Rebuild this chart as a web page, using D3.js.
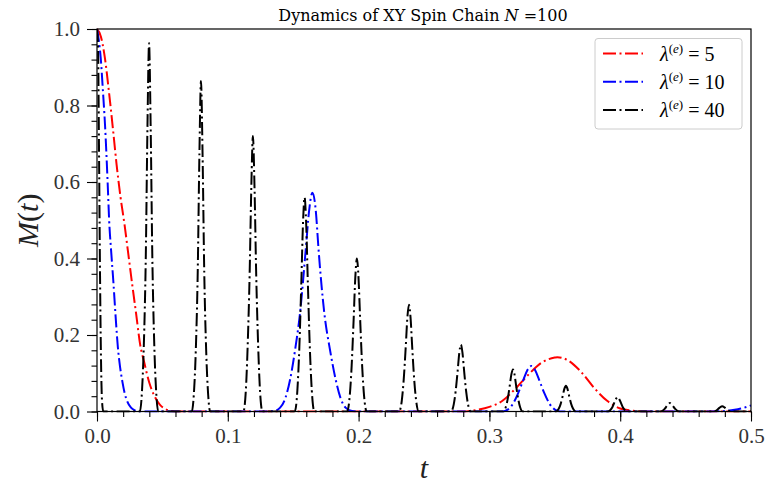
<!DOCTYPE html>
<html><head><meta charset="utf-8">
<script src="https://cdn.jsdelivr.net/npm/d3@7"></script>
<style>body{margin:0;background:#fff} svg{display:block}</style>
</head><body><svg id="c" width="767" height="484"></svg>
<script>
// ---------- data ----------
const xTicks = [0, 0.1, 0.2, 0.3, 0.4, 0.5];
const yTicks = [0, 0.2, 0.4, 0.6, 0.8, 1.0];
const seriesLabels = ["5", "10", "40"];

// lambda = 5
const red5 = [
  [0,1],[0.003,0.98],[0.006,0.925],[0.009,0.84],[0.012,0.745],[0.015,0.645],[0.018,0.56],
  [0.021,0.49],[0.024,0.41],[0.027,0.33],[0.030,0.253],[0.033,0.175],[0.036,0.13],[0.040,0.075],
  [0.044,0.04],[0.048,0.018],[0.052,0.007],[0.056,0.002],[0.062,0],[0.28,0],
  [0.29,0.004],[0.30,0.012],[0.31,0.028],[0.32,0.06],[0.33,0.097],[0.34,0.128],[0.35,0.141],
  [0.352,0.142],[0.36,0.134],[0.37,0.104],[0.38,0.062],[0.39,0.028],[0.40,0.008],[0.41,0.002],
  [0.42,0],[0.5,0]
];

// lambda = 10
const blue10 = [
  [0,1],[0.0014,0.97],[0.0028,0.926],[0.0045,0.84],[0.0061,0.751],[0.0084,0.576],[0.0092,0.506],
  [0.0108,0.42],[0.0125,0.34],[0.0142,0.25],[0.016,0.166],[0.0177,0.115],[0.0194,0.078],
  [0.0212,0.047],[0.0232,0.026],[0.026,0.01],[0.029,0.003],[0.033,0],[0.13,0],
  [0.135,0.001],[0.140,0.01],[0.144,0.035],[0.1476,0.083],[0.1514,0.16],[0.1552,0.257],
  [0.1598,0.432],[0.162,0.52],[0.1647,0.572],[0.1674,0.52],[0.1692,0.432],[0.1738,0.257],
  [0.1782,0.16],[0.1825,0.083],[0.1862,0.035],[0.190,0.01],[0.195,0.001],[0.2,0],[0.31,0],
  [0.314,0.005],[0.318,0.02],[0.322,0.048],[0.326,0.083],[0.329,0.108],[0.332,0.119],
  [0.335,0.108],[0.338,0.083],[0.342,0.048],[0.346,0.02],[0.350,0.005],[0.354,0],[0.47,0],
  [0.48,0.001],[0.485,0.003],[0.49,0.006],[0.495,0.01],[0.5,0.016]
];

// lambda = 40
const black40 = [
  [0,1],[0.0008,0.95],[0.0015,0.7],[0.0022,0.4],[0.003,0.15],[0.0038,0.03],[0.0048,0],
  [0.0328,0],[0.0343,0.048],[0.0358,0.173],[0.0373,0.404],[0.0386,0.751],[0.0398,0.963],
  [0.0410,0.751],[0.0423,0.404],[0.0438,0.173],[0.0453,0.048],[0.0468,0],
  [0.0725,0],[0.074,0.043],[0.0755,0.156],[0.077,0.363],[0.0783,0.674],[0.0795,0.864],
  [0.0807,0.674],[0.082,0.363],[0.0835,0.156],[0.085,0.043],[0.0865,0],
  [0.1119,0],[0.1137,0.05],[0.1152,0.173],[0.1167,0.36],[0.118,0.59],[0.1192,0.72],
  [0.1204,0.59],[0.1217,0.36],[0.1232,0.173],[0.1247,0.05],[0.1265,0],
  [0.1512,0],[0.1532,0.056],[0.1547,0.168],[0.1562,0.336],[0.1575,0.493],[0.1587,0.56],
  [0.1599,0.493],[0.1612,0.336],[0.1627,0.168],[0.1642,0.056],[0.1662,0],
  [0.1912,0],[0.1932,0.04],[0.1947,0.12],[0.1962,0.24],[0.1975,0.352],[0.1987,0.40],
  [0.1999,0.352],[0.2012,0.24],[0.2027,0.12],[0.2042,0.04],[0.2062,0],
  [0.231,0],[0.233,0.028],[0.2345,0.084],[0.236,0.167],[0.2373,0.246],[0.2385,0.279],
  [0.2397,0.246],[0.241,0.167],[0.2425,0.084],[0.244,0.028],[0.246,0],
  [0.2707,0],[0.2727,0.018],[0.2742,0.053],[0.2757,0.105],[0.277,0.154],[0.2782,0.175],
  [0.2794,0.154],[0.2807,0.105],[0.2822,0.053],[0.2837,0.018],[0.2857,0],
  [0.3105,0],[0.3125,0.011],[0.314,0.033],[0.3155,0.066],[0.3168,0.097],[0.318,0.11],
  [0.3192,0.097],[0.3205,0.066],[0.322,0.033],[0.3235,0.011],[0.3255,0],
  [0.351,0],[0.353,0.007],[0.3545,0.02],[0.356,0.04],[0.3573,0.059],[0.3585,0.067],
  [0.3597,0.059],[0.361,0.04],[0.3625,0.02],[0.364,0.007],[0.366,0],
  [0.3905,0],[0.3925,0.004],[0.394,0.011],[0.3955,0.023],[0.3968,0.033],[0.398,0.038],
  [0.3992,0.033],[0.4005,0.023],[0.402,0.011],[0.4035,0.004],[0.4055,0],
  [0.431,0],[0.434,0.007],[0.436,0.016],[0.438,0.022],[0.44,0.016],[0.442,0.007],[0.445,0],
  [0.471,0],[0.474,0.004],[0.476,0.01],[0.478,0.014],[0.48,0.01],[0.482,0.004],[0.485,0],
  [0.5,0]
];

// ---------- drawing ----------
const seriesData = [red5, blue10, black40];
const colors = ["#ff0000", "#0000ff", "#000000"];
const serif = "'Liberation Serif', 'DejaVu Serif', serif";

const svg = d3.select("#c");
const L = 97, R = 751, T = 29, B = 411.5;
const x = d3.scaleLinear().domain([0, 0.5]).range([L, R]);
const y = d3.scaleLinear().domain([0, 1]).range([B, T]);

svg.append("defs").append("clipPath").attr("id", "clip")
  .append("rect").attr("x", L).attr("y", T - 2).attr("width", R - L).attr("height", B - T + 3);

const line = d3.line().x(d => x(d[0])).y(d => y(d[1])).curve(d3.curveMonotoneX);
const dash = "13,3.5,2,3.5";

const g = svg.append("g").attr("clip-path", "url(#clip)");
seriesData.forEach((s, i) => {
  g.append("path").datum(s).attr("d", line)
    .attr("fill", "none").attr("stroke", colors[i]).attr("stroke-width", 2)
    .attr("stroke-dasharray", dash).attr("stroke-linejoin", "round");
});

// minor ticks
svg.append("g").attr("transform", `translate(0,${B})`)
  .call(d3.axisBottom(x).tickValues(d3.range(0, 0.5001, 0.02)).tickSize(5.5).tickFormat(""))
  .call(a => a.select(".domain").remove());
svg.append("g").attr("transform", `translate(${L},0)`)
  .call(d3.axisLeft(y).tickValues(d3.range(0, 1.0001, 0.04)).tickSize(5.5).tickFormat(""))
  .call(a => a.select(".domain").remove());

// major ticks
const xa = svg.append("g").attr("transform", `translate(0,${B})`)
  .call(d3.axisBottom(x).tickValues(xTicks).tickFormat(d3.format(".1f")).tickSize(10).tickPadding(7));
xa.select(".domain").remove();
const ya = svg.append("g").attr("transform", `translate(${L},0)`)
  .call(d3.axisLeft(y).tickValues(yTicks).tickFormat(d3.format(".1f")).tickSize(10).tickPadding(7));
ya.select(".domain").remove();
svg.selectAll(".tick line").attr("stroke", "#000").attr("stroke-width", 1.1);
svg.selectAll(".tick text").attr("font-family", serif).attr("font-size", 21).attr("fill", "#333");

// frame
svg.append("rect").attr("x", L).attr("y", T).attr("width", R - L).attr("height", B - T)
  .attr("fill", "none").attr("stroke", "#000").attr("stroke-width", 1.2);

// title
const title = svg.append("text").attr("x", (L + R) / 2 - 1).attr("y", 21).attr("text-anchor", "middle")
  .attr("font-family", "'DejaVu Serif', serif").attr("font-size", 16);
title.append("tspan").text("Dynamics of XY Spin Chain ");
title.append("tspan").attr("font-style", "italic").text("N");
title.append("tspan").text(" =100");

// axis labels
svg.append("text").attr("x", (L + R) / 2).attr("y", 478).attr("text-anchor", "middle")
  .attr("font-family", serif).attr("font-size", 30).attr("font-style", "italic").attr("fill", "#222").text("t");
const yl = svg.append("text").attr("transform", `translate(38,${(T + B) / 2}) rotate(-90)`)
  .attr("text-anchor", "middle").attr("font-family", serif).attr("font-size", 30).attr("fill", "#222");
yl.append("tspan").attr("font-style", "italic").text("M");
yl.append("tspan").text("(");
yl.append("tspan").attr("font-style", "italic").text("t");
yl.append("tspan").text(")");

// legend
const lg = svg.append("g");
lg.append("rect").attr("x", 595).attr("y", 38.5).attr("width", 147).attr("height", 90.5)
  .attr("rx", 3).attr("fill", "#fff").attr("stroke", "#cccccc").attr("stroke-width", 1);
seriesLabels.forEach((lab, i) => {
  const yy = 53.5 + i * 28.3;
  lg.append("line").attr("x1", 603).attr("x2", 643).attr("y1", yy).attr("y2", yy)
    .attr("stroke", colors[i]).attr("stroke-width", 2).attr("stroke-dasharray", dash);
  const t = lg.append("text").attr("x", 660).attr("y", yy + 7).attr("font-family", serif).attr("font-size", 20);
  t.append("tspan").attr("font-style", "italic").text("λ");
  t.append("tspan").attr("font-size", 13).attr("dy", -8).text("(");
  t.append("tspan").attr("font-size", 13).attr("font-style", "italic").text("e");
  t.append("tspan").attr("font-size", 13).text(")");
  t.append("tspan").attr("dy", 8).attr("dx", 5).text("=");
  t.append("tspan").attr("dx", 5).text(lab);
});
</script></body></html>
